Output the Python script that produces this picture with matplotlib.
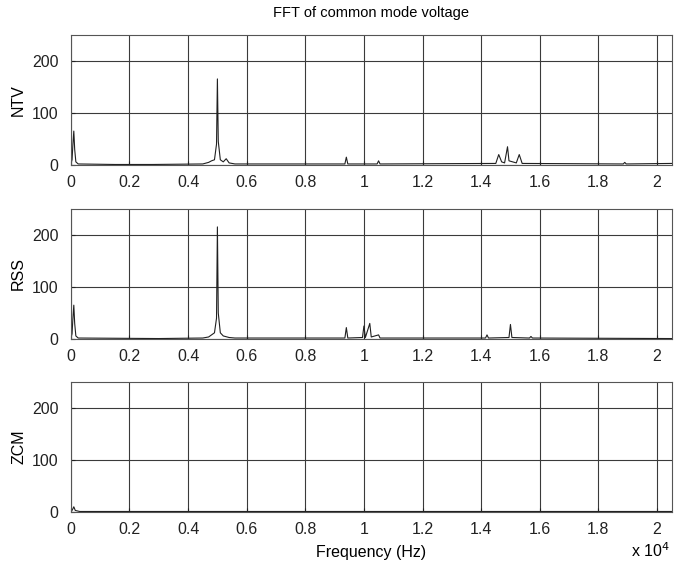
import matplotlib
matplotlib.use("Agg")
import matplotlib.pyplot as plt
from matplotlib.ticker import FuncFormatter

plt.rcParams["font.family"] = ["Liberation Sans", "DejaVu Sans"]

# spectrum samples: frequency (Hz) and magnitude for each method
ntv_freq = [0, 40, 70, 100, 130, 170, 250, 1500, 2800, 4500, 4700, 4800, 4900, 4970,
            5000, 5030, 5100, 5200, 5300, 5400, 5600, 9350, 9400, 9450, 10450, 10500,
            10550, 14500, 14600, 14700, 14800, 14900, 14950, 15200, 15300, 15400,
            18850, 18900, 18950, 20700, 20800, 20500]
ntv_amp = [2, 10, 40, 65, 30, 6, 2, 1, 1, 2, 5, 8, 10, 40,
           165, 45, 10, 6, 12, 4, 2, 2, 15, 2, 2, 8,
           2, 3, 20, 6, 4, 35, 8, 4, 20, 3,
           2, 5, 2, 2, 5, 3]

rss_freq = [0, 40, 70, 100, 130, 170, 250, 3000, 4500, 4700, 4800, 4900, 4970, 5000,
            5030, 5100, 5200, 5400, 5600, 9350, 9400, 9450, 9950, 10000, 10050, 10200,
            10250, 10500, 10550, 14150, 14200, 14250, 14950, 15000, 15050, 15650,
            15700, 15750, 20500]
rss_amp = [2, 10, 40, 65, 30, 6, 2, 1, 2, 4, 8, 12, 40, 215,
           50, 12, 6, 3, 2, 2, 22, 2, 3, 25, 3, 30,
           4, 8, 2, 2, 8, 2, 3, 28, 3, 2,
           5, 2, 1]

zcm_freq = [0, 50, 100, 150, 300, 20500]
zcm_amp = [1, 4, 10, 3, 1, 1]

series = [("NTV", ntv_freq, ntv_amp),
          ("RSS", rss_freq, rss_amp),
          ("ZCM", zcm_freq, zcm_amp)]

x_ticks = [0, 2000, 4000, 6000, 8000, 10000, 12000, 14000, 16000, 18000, 20000]
y_ticks = [0, 100, 200]

fig = plt.figure(figsize=(6.75, 5.67), dpi=100)
bottoms = [0.709, 0.402, 0.097]

for (name, f, a), b in zip(series, bottoms):
    ax = fig.add_axes([0.105, b, 0.890, 0.230])
    pts = sorted(zip(f, a))
    ax.plot([p[0] for p in pts], [p[1] for p in pts], color="#202020", lw=0.8)
    ax.set_xlim(0, 20500)
    ax.set_ylim(0, 250)
    ax.set_xticks(x_ticks)
    ax.set_yticks(y_ticks)
    ax.xaxis.set_major_formatter(FuncFormatter(lambda v, p: f"{v / 1e4:g}"))
    ax.grid(True, color="#3a3a3a", lw=0.8)
    ax.tick_params(direction="in", length=3, labelsize=11.5, colors="#222222")
    ax.tick_params(axis="x", pad=7)
    ax.tick_params(axis="y", pad=9)
    ax.set_ylabel(name, fontsize=11.5, labelpad=4)
    for s in ax.spines.values():
        s.set_color("#555555")
        s.set_linewidth(0.8)
    if name == "NTV":
        ax.set_title("FFT of common mode voltage", fontsize=10.5, pad=13)
    if name == "ZCM":
        ax.set_xlabel("Frequency (Hz)", fontsize=11.5, labelpad=6)

fig.text(0.935, 0.018, r"x 10$^{4}$", fontsize=11.5)

fig.savefig("out.png", dpi=100)
